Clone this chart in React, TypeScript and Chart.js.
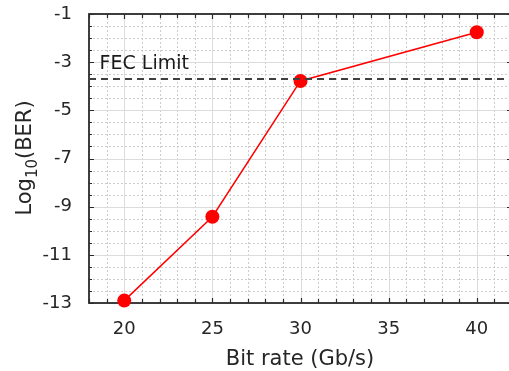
import React, { useEffect, useRef } from "react";
import { Chart, registerables } from "chart.js";

Chart.register(...registerables);

const bitRates = [20, 25, 30, 40];
const logBer = [-12.9, -9.42, -3.78, -1.76];
const xTicks = [20, 25, 30, 35, 40];
const yTicks = [-13, -11, -9, -7, -5, -3, -1];
const xRange = [18, 42];
const yRange = [-13, -1];
const fecLimit = -3.7;
const fecLabel = "FEC Limit";
const xTitle = "Bit rate (Gb/s)";
const yTitleMain = "Log";
const yTitleSub = "10";
const yTitleRest = "(BER)";

const FONT = "'DejaVu Sans', sans-serif";
const TEXT = "#262626";

const framePlugin = {
  id: "frame",
  beforeDatasetsDraw(chart: any) {
    const { ctx, chartArea } = chart;
    const { left, right, top, bottom } = chartArea;
    const xs = chart.scales.x;
    const ys = chart.scales.y;
    ctx.save();
    ctx.lineWidth = 1;
    // minor dotted grid
    ctx.strokeStyle = "#cccccc";
    ctx.setLineDash([2, 2]);
    for (let v = xRange[0]; v <= xRange[1]; v += 1) {
      if (v % 5 === 0) continue;
      const px = Math.round(xs.getPixelForValue(v)) + 0.5;
      ctx.beginPath();
      ctx.moveTo(px, top);
      ctx.lineTo(px, bottom);
      ctx.stroke();
    }
    for (let v = yRange[0]; v <= yRange[1]; v += 0.5) {
      if (Number.isInteger(v) && Math.abs(v) % 2 === 1) continue;
      const py = Math.round(ys.getPixelForValue(v)) + 0.5;
      ctx.beginPath();
      ctx.moveTo(left, py);
      ctx.lineTo(right, py);
      ctx.stroke();
    }
    // major solid grid
    ctx.setLineDash([]);
    ctx.strokeStyle = "#dcdcdc";
    for (const v of xTicks) {
      const px = Math.round(xs.getPixelForValue(v)) + 0.5;
      ctx.beginPath();
      ctx.moveTo(px, top);
      ctx.lineTo(px, bottom);
      ctx.stroke();
    }
    for (const v of yTicks) {
      const py = Math.round(ys.getPixelForValue(v)) + 0.5;
      ctx.beginPath();
      ctx.moveTo(left, py);
      ctx.lineTo(right, py);
      ctx.stroke();
    }
    // border
    ctx.strokeStyle = "#2b2b2b";
    ctx.lineWidth = 1.8;
    ctx.strokeRect(left, top, right - left, bottom - top);
    // inward tick marks
    ctx.lineWidth = 1.2;
    for (let v = xRange[0]; v <= xRange[1]; v += 1) {
      const len = v % 5 === 0 ? 5 : 4;
      const px = Math.round(xs.getPixelForValue(v)) + 0.5;
      ctx.beginPath();
      ctx.moveTo(px, bottom);
      ctx.lineTo(px, bottom - len);
      ctx.moveTo(px, top);
      ctx.lineTo(px, top + len);
      ctx.stroke();
    }
    for (let v = yRange[0]; v <= yRange[1]; v += 0.5) {
      const major = Number.isInteger(v) && Math.abs(v) % 2 === 1;
      const len = major ? 5 : 3;
      const rlen = major ? 5 : Number.isInteger(v) ? 3 : 1.5;
      const py = Math.round(ys.getPixelForValue(v)) + 0.5;
      ctx.beginPath();
      ctx.moveTo(left, py);
      ctx.lineTo(left + len, py);
      ctx.moveTo(right, py);
      ctx.lineTo(right - rlen, py);
      ctx.stroke();
    }
    ctx.restore();
  },
  afterDatasetsDraw(chart: any) {
    const { ctx, chartArea } = chart;
    const { left, right } = chartArea;
    const xs = chart.scales.x;
    const ys = chart.scales.y;
    ctx.save();
    // FEC limit line
    const py = ys.getPixelForValue(fecLimit);
    ctx.strokeStyle = "#404040";
    ctx.lineWidth = 2;
    ctx.setLineDash([7, 5]);
    ctx.beginPath();
    ctx.moveTo(left, py);
    ctx.lineTo(right, py);
    ctx.stroke();
    ctx.setLineDash([]);
    // FEC label
    ctx.fillStyle = "#1a1a1a";
    ctx.font = `19px ${FONT}`;
    ctx.textAlign = "left";
    ctx.textBaseline = "alphabetic";
    ctx.fillText(fecLabel, xs.getPixelForValue(18.6), 69);
    // X title
    ctx.fillStyle = TEXT;
    ctx.textAlign = "center";
    ctx.font = `21px ${FONT}`;
    ctx.fillText(xTitle, 300, 365);
    // Y title with subscript
    const cy = 158;
    ctx.translate(31, cy);
    ctx.rotate(-Math.PI / 2);
    ctx.font = `21px ${FONT}`;
    const wMain = ctx.measureText(yTitleMain).width;
    const wRest = ctx.measureText(yTitleRest).width;
    ctx.font = `15px ${FONT}`;
    const wSub = ctx.measureText(yTitleSub).width;
    const total = wMain + wSub + wRest;
    let x0 = -total / 2;
    ctx.textAlign = "left";
    ctx.font = `21px ${FONT}`;
    ctx.fillText(yTitleMain, x0, 0);
    x0 += wMain;
    ctx.font = `15px ${FONT}`;
    ctx.fillText(yTitleSub, x0, 6);
    x0 += wSub;
    ctx.font = `21px ${FONT}`;
    ctx.fillText(yTitleRest, x0, 0);
    ctx.restore();
  },
};

export default function App() {
  const ref = useRef<HTMLCanvasElement>(null);
  useEffect(() => {
    if (!ref.current) return;
    const chart = new Chart(ref.current, {
      type: "scatter",
      data: {
        datasets: [
          {
            data: bitRates.map((x, i) => ({ x, y: logBer[i] })),
            showLine: true,
            borderColor: "#ff0000",
            backgroundColor: "#ff0000",
            borderWidth: 1.5,
            pointRadius: 7,
            pointHoverRadius: 7,
            pointBorderWidth: 0,
            clip: false,
          },
        ],
      },
      options: {
        animation: false,
        responsive: false,
        maintainAspectRatio: false,
        events: [],
        layout: { autoPadding: false, padding: { top: 14, left: 0, right: 0, bottom: 0 } },
        plugins: { legend: { display: false }, tooltip: { enabled: false } },
        scales: {
          x: {
            type: "linear",
            min: xRange[0],
            max: xRange[1],
            afterBuildTicks: (s: any) => {
              s.ticks = xTicks.map((v) => ({ value: v }));
            },
            afterFit: (s: any) => {
              s.height = 68;
              s.paddingLeft = 0;
              s.paddingRight = 0;
            },
            grid: { display: false },
            border: { display: false },
            ticks: {
              color: TEXT,
              font: { family: FONT, size: 18 },
              padding: 8,
              maxRotation: 0,
              autoSkip: false,
            },
          },
          y: {
            type: "linear",
            min: yRange[0],
            max: yRange[1],
            afterBuildTicks: (s: any) => {
              s.ticks = yTicks.map((v) => ({ value: v }));
            },
            afterFit: (s: any) => {
              s.width = 89;
              s.paddingTop = 0;
              s.paddingBottom = 0;
            },
            grid: { display: false },
            border: { display: false },
            ticks: {
              color: TEXT,
              font: { family: FONT, size: 18 },
              padding: 9,
              autoSkip: false,
            },
          },
        },
      },
      plugins: [framePlugin],
    });
    return () => chart.destroy();
  }, []);
  return (
    <div
      style={{
        position: "fixed",
        left: 0,
        top: 0,
        width: 509,
        height: 371,
        overflow: "hidden",
        background: "#ffffff",
      }}
    >
      <canvas ref={ref} width={512} height={371} style={{ display: "block" }} />
    </div>
  );
}
